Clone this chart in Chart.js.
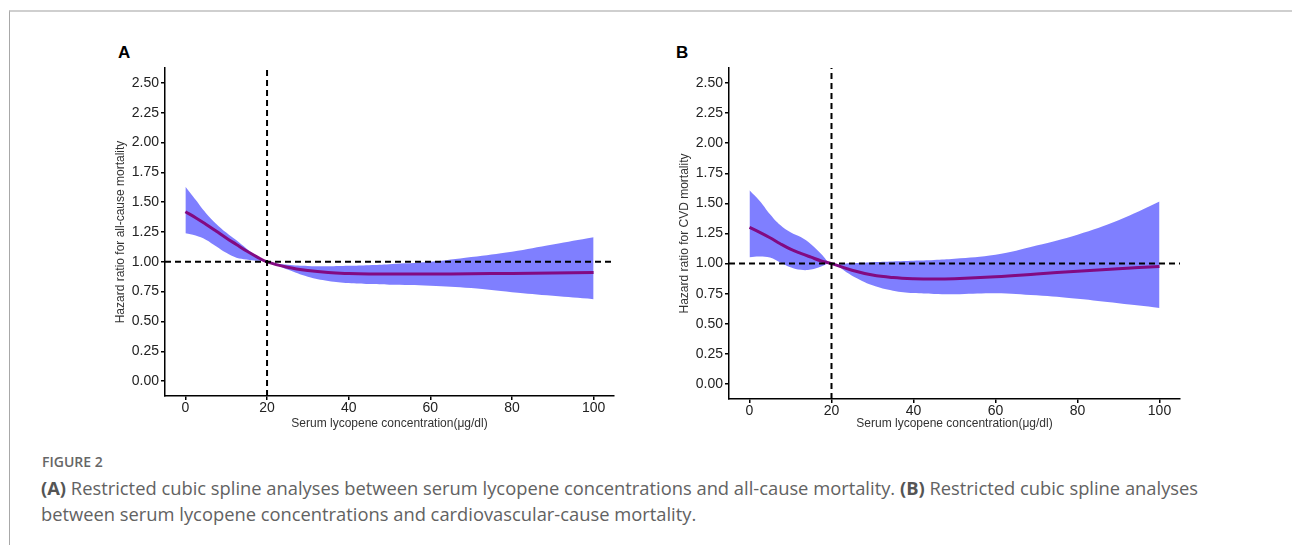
<!DOCTYPE html>
<html>
<head>
<meta charset="utf-8">
<script src="https://cdn.jsdelivr.net/npm/chart.js@4.4.1/dist/chart.umd.min.js"></script>
<style>
  body { margin: 0; background: #fff; }
  #page { position: relative; width: 1292px; height: 545px; overflow: hidden; }
  #frame { position: absolute; left: 9px; top: 10px; right: -5px; bottom: -5px;
           border-top: 2px solid #cfcfcf; border-left: 1px solid #a8a8a8; }
  .panel { position: absolute; top: 40px; width: 540px; height: 400px; }
  .tag { position: absolute; top: 43px; font: bold 17px "Liberation Sans", Arial, sans-serif; color: #000; }
  #fig { position: absolute; left: 42px; top: 452px; font: 600 14px "Open Sans", sans-serif;
         color: #666; line-height: 20px; }
  #cap { position: absolute; left: 41px; top: 475px; font: 18px "Open Sans", sans-serif;
         color: #626262; line-height: 26px; white-space: nowrap; }
  #cap b { font-weight: 700; color: #555; }
</style>
</head>
<body>
<div id="page">
  <div id="frame"></div>
  <div class="tag" style="left:118px">A</div>
  <div class="tag" style="left:676px">B</div>
  <canvas id="chartA" class="panel" style="left:100px" width="540" height="400"></canvas>
  <canvas id="chartB" class="panel" style="left:660px" width="540" height="400"></canvas>
  <div id="fig">FIGURE 2</div>
  <div id="cap"><span id="line1"><b>(A)</b> Restricted cubic spline analyses between serum lycopene concentrations and all-cause mortality. <b>(B)</b> Restricted cubic spline analyses</span><br>between serum lycopene concentrations and cardiovascular-cause mortality.</div>
</div>
<script>
// ---- DATA ----
const lycopene = [0, 2.5, 5, 7.5, 10, 12.5, 15, 17.5, 20, 25, 30, 35, 40, 45, 50, 60, 70, 80, 90, 100];

// A: all-cause mortality
const hrAll    = [1.42, 1.37, 1.315, 1.258, 1.20, 1.145, 1.09, 1.042, 1.00, 0.955, 0.927, 0.91, 0.902, 0.898, 0.897, 0.898, 0.90, 0.903, 0.906, 0.91];
const upperAll = [1.63, 1.52, 1.41, 1.32, 1.245, 1.18, 1.11, 1.045, 1.00, 0.975, 0.965, 0.963, 0.967, 0.972, 0.98, 1.00, 1.04, 1.085, 1.145, 1.205];
const lowerAll = [1.24, 1.22, 1.185, 1.13, 1.075, 1.035, 1.02, 1.008, 1.00, 0.935, 0.875, 0.84, 0.822, 0.813, 0.808, 0.80, 0.78, 0.745, 0.715, 0.687];

// B: CVD mortality
const hrCvd    = [1.30, 1.26, 1.215, 1.165, 1.12, 1.085, 1.053, 1.022, 1.00, 0.945, 0.905, 0.884, 0.874, 0.871, 0.874, 0.89, 0.913, 0.937, 0.957, 0.976];
const upperCvd = [1.61, 1.52, 1.41, 1.32, 1.26, 1.22, 1.16, 1.08, 1.00, 1.004, 1.012, 1.018, 1.024, 1.03, 1.04, 1.073, 1.15, 1.24, 1.36, 1.516];
const lowerCvd = [1.053, 1.059, 1.05, 1.01, 0.97, 0.948, 0.95, 0.975, 1.00, 0.9, 0.82, 0.775, 0.755, 0.748, 0.746, 0.754, 0.736, 0.707, 0.67, 0.632];

const xTicks = [0, 20, 40, 60, 80, 100];
const yTicks = [0, 0.25, 0.5, 0.75, 1, 1.25, 1.5, 1.75, 2, 2.25, 2.5];
const refX = 20;
const refY = 1;
const xLimits = [-5, 105];
const yLimits = [-0.125, 2.625];

const xTitle = "Serum lycopene concentration(\u03bcg/dl)";

// caption width fit (line 1 spans 41 -> 1199 in the figure)
const cap = document.getElementById("cap");
const w1 = document.getElementById("line1").getBoundingClientRect().width;
cap.style.fontSize = (18 * 1158 / w1).toFixed(2) + "px";

// ---- CHART ----
function pts(ys) {
  return ys.map((y, i) => ({ x: lycopene[i], y: y }));
}

function makePanel(id, hr, upper, lower, yTitle, lay) {
  const ctx = document.getElementById(id).getContext("2d");
  const dash = { borderColor: "#000", borderWidth: 2, borderDash: [6, 4], pointRadius: 0, fill: false };
  const font = { family: "'Liberation Sans', Arial", size: 14 };
  const titleFont = { family: "'Liberation Sans', Arial", size: 12 };
  return new Chart(ctx, {
    type: "line",
    data: {
      datasets: [
        Object.assign({ data: [{ x: xLimits[0], y: refY }, { x: xLimits[1], y: refY }] }, dash),
        Object.assign({ data: [{ x: refX, y: yLimits[0] }, { x: refX, y: yLimits[1] }] }, dash),
        { data: pts(hr), borderColor: "#820a82", borderWidth: 3, pointRadius: 0,
          fill: false, tension: 0.4 },
        { data: pts(upper), borderColor: "transparent", borderWidth: 0, pointRadius: 0,
          backgroundColor: "rgba(0,0,255,0.5)", fill: "+1", tension: 0.4 },
        { data: pts(lower), borderColor: "transparent", borderWidth: 0, pointRadius: 0,
          fill: false, tension: 0.4 }
      ]
    },
    options: {
      responsive: false,
      animation: false,
      events: [],
      layout: { padding: { left: 0, right: lay.right, top: lay.top, bottom: 0 } },
      plugins: { legend: { display: false }, tooltip: { enabled: false } },
      scales: {
        x: {
          type: "linear",
          min: xLimits[0], max: xLimits[1],
          afterBuildTicks: a => { a.ticks = xTicks.map(v => ({ value: v })); },
          afterFit: a => { a.height = lay.xh; },
          grid: { drawOnChartArea: false, drawTicks: true, tickLength: 4, color: "#000", lineWidth: 1.5 },
          border: { display: true, color: "#000", width: 1.5 },
          ticks: { padding: 0, color: "#222", maxRotation: 0, font: font },
          title: { display: true, text: xTitle, color: "#333", padding: { top: 0, bottom: 9 }, font: titleFont }
        },
        y: {
          min: yLimits[0], max: yLimits[1],
          afterBuildTicks: a => { a.ticks = yTicks.map(v => ({ value: v })); },
          afterFit: a => { a.width = lay.yw; },
          grid: { drawOnChartArea: false, drawTicks: true, tickLength: 4, color: "#000", lineWidth: 1.5 },
          border: { display: true, color: "#000", width: 1.5 },
          ticks: { padding: 2, color: "#222", callback: v => v.toFixed(2), font: font },
          title: { display: true, text: yTitle, color: "#333", padding: { top: lay.ytp, bottom: 0 }, font: titleFont }
        }
      }
    }
  });
}

makePanel("chartA", hrAll, upperAll, lowerAll, "Hazard ratio for all-cause mortality",
  { yw: 65, right: 26, top: 28, xh: 44, ytp: 13 });
makePanel("chartB", hrCvd, upperCvd, lowerCvd, "Hazard ratio for CVD mortality",
  { yw: 69, right: 20, top: 28, xh: 41, ytp: 17 });
</script>
</body>
</html>
